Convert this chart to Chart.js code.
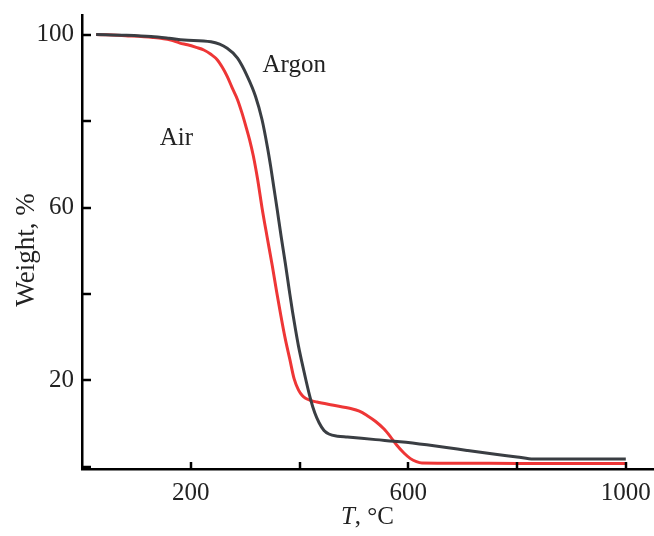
<!DOCTYPE html>
<html><head><meta charset="utf-8">
<script src="https://cdn.jsdelivr.net/npm/chart.js@4"></script>
<style>html,body{margin:0;padding:0;background:#fff}#wrap{width:654px;height:536px}</style>
</head><body><div id="wrap"><canvas id="c" width="654" height="536"></canvas></div>
<script>
// ---- data ----
const argonT = [26,80,127,160,188,237,267,286,304,319,331,341,347,353,359,366,374,381,387,393,398,403,411,420,428,436,445,454,470,488,540,585,634,670,708,760,800,830,900,1000];
const argonW = [100.1,99.9,99.6,99.2,98.8,98.4,96.9,94.6,90.4,85.8,80.4,74,69.5,64.5,59.5,53.5,47,41,36,31.5,28,25,20.5,15.8,12.5,10.2,8.4,7.6,7.1,6.9,6.3,5.8,5.1,4.5,3.8,2.9,2.3,1.8,1.8,1.8];
const airT = [26,80,130,163,180,194,210,224,237,249,258,267,276,286,294,301,308,315,323,331,340,350,358,365,374,382,390,398,405,411,420,432,460,494,510,524,540,555,567,579,592,604,615,625,700,800,1000];
const airW = [100.1,99.8,99.4,98.8,98.1,97.7,97.1,96.5,95.5,94.2,92.5,90.4,87.8,85,82,79,75.8,72,66.5,60,53.5,46.5,40.5,35.5,29.5,25,20.4,17.8,16.5,15.9,15.4,15.0,14.3,13.5,12.9,11.9,10.5,8.8,7,5,3.2,1.9,1.2,0.9,0.85,0.8,0.8];
const xTickValues = [200,400,600,800,1000];
const xTickLabels = ['200','','600','','1000'];
const yTickValues = [0,20,40,60,80,100];
const yTickLabels = ['','20','','60','','100'];
const seriesNames = ['Argon','Air'];
const labelPos = [{x:332,y:91.5},{x:143,y:74.4}];
const yTitle = 'Weight, %';

const FONT = "'Liberation Serif','Times New Roman',serif";
const TXT = '#222';

const extras = {
  id:'extras',
  afterDraw(chart){
    const {ctx, chartArea:a, scales:{x,y}} = chart;
    ctx.save();
    ctx.strokeStyle='#000'; ctx.lineWidth=2.5;
    xTickValues.forEach(v=>{const px=Math.round(x.getPixelForValue(v));ctx.beginPath();ctx.moveTo(px,a.bottom);ctx.lineTo(px,a.bottom-7);ctx.stroke();});
    yTickValues.forEach(v=>{const py=Math.round(y.getPixelForValue(v));ctx.beginPath();ctx.moveTo(a.left,py);ctx.lineTo(a.left+9,py);ctx.stroke();});
    ctx.fillStyle=TXT; ctx.textBaseline='alphabetic'; ctx.textAlign='left';
    ctx.font='25px '+FONT;
    seriesNames.forEach((n,i)=>{ctx.fillText(n, x.getPixelForValue(labelPos[i].x), y.getPixelForValue(labelPos[i].y));});
    // x title: italic T + ", °C"
    const p1='T', p2=', \u00B0C';
    ctx.font='italic 25px '+FONT; const w1=ctx.measureText(p1).width;
    ctx.font='25px '+FONT; const w2=ctx.measureText(p2).width;
    const cx=(a.left+a.right)/2, start=cx-(w1+w2)/2, by=524;
    ctx.font='italic 25px '+FONT; ctx.fillText(p1,start,by);
    ctx.font='25px '+FONT; ctx.fillText(p2,start+w1,by);
    // y title
    ctx.save();
    ctx.translate(27,250); ctx.rotate(-Math.PI/2);
    ctx.font='27px '+FONT; ctx.textAlign='center'; ctx.textBaseline='middle';
    ctx.fillText(yTitle,0,0);
    ctx.restore();
    ctx.restore();
  }
};

new Chart(document.getElementById('c'),{
  type:'line',
  data:{datasets:[
    {label:seriesNames[0],data:argonT.map((t,i)=>({x:t,y:argonW[i]})),borderColor:'#3a3e43',borderWidth:3,pointRadius:0,cubicInterpolationMode:'monotone',fill:false},
    {label:seriesNames[1],data:airT.map((t,i)=>({x:t,y:airW[i]})),borderColor:'#ee3636',borderWidth:3,pointRadius:0,cubicInterpolationMode:'monotone',fill:false}
  ]},
  options:{
    responsive:false, animation:false, devicePixelRatio:1,
    layout:{padding:{top:15,right:1,left:0,bottom:0}},
    plugins:{legend:{display:false},tooltip:{enabled:false}},
    scales:{
      x:{type:'linear',min:0,max:1050,
        afterBuildTicks:s=>{s.ticks=xTickValues.map(v=>({value:v}));},
        afterFit:s=>{s.height=67;s.paddingLeft=0;s.paddingRight=0;},
        grid:{display:false,drawTicks:false},
        border:{display:true,color:'#000',width:2.5},
        ticks:{padding:9,color:TXT,font:{family:FONT,size:25},maxRotation:0,autoSkip:false,
          callback:(v,i)=>xTickLabels[i]}
      },
      y:{type:'linear',min:-0.5,max:104.6,
        afterBuildTicks:s=>{s.ticks=yTickValues.map(v=>({value:v}));},
        afterFit:s=>{s.width=82;s.paddingTop=0;s.paddingBottom=0;},
        grid:{display:false,drawTicks:false},
        border:{display:true,color:'#000',width:2.5},
        ticks:{padding:8,color:TXT,font:{family:FONT,size:25},autoSkip:false,
          callback:(v,i)=>yTickLabels[i]}
      }
    }
  },
  plugins:[extras]
});
</script></body></html>
